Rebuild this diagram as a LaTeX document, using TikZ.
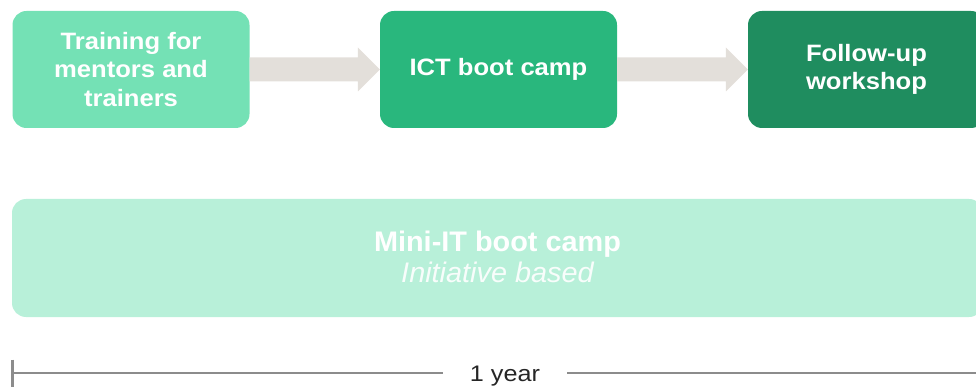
\documentclass[tikz,border=0pt]{standalone}
\usepackage{fontspec}
\setmainfont{Liberation Sans}
\newfontfamily\stepfont[FakeStretch=1.08]{Liberation Sans}
\newfontfamily\bandfont[FakeStretch=1.02]{Liberation Sans}
\newfontfamily\scalefont[FakeStretch=1.12]{Liberation Sans}
\usetikzlibrary{calc}
\definecolor{stepA}{HTML}{74E1B5}
\definecolor{stepB}{HTML}{29B77D}
\definecolor{stepC}{HTML}{1F8D5F}
\definecolor{band}{HTML}{B8F0D9}
\definecolor{flow}{HTML}{E3DFDA}
\definecolor{axis}{HTML}{8C8C8C}
\tikzset{
  stepbox/.style={rounded corners=14pt, minimum width=237pt, minimum height=117pt,
    inner sep=0pt, align=center, text=white,
    font=\stepfont\bfseries\fontsize{23.7}{28.5}\selectfont},
  bandbox/.style={rounded corners=14pt, fill=band, minimum width=971pt, minimum height=118pt,
    inner sep=0pt},
  flowarrow/.style={fill=flow},
}
\begin{document}
\begin{tikzpicture}[x=1pt,y=-1pt]
  \useasboundingbox (0,0) rectangle (976,387);
  \clip (0,0) rectangle (976,387);

  % process steps
  \node[stepbox, fill=stepA] (train) at (131,69.5) {Training for\\mentors and\\trainers};
  \node[stepbox, fill=stepB] (ict)   at (498.5,69.5) {ICT boot camp};
  \node[stepbox, fill=stepC] (follow) at (866.5,69.5) {Follow-up\\workshop};

  % block arrows between the steps
  \foreach \a/\b in {train/ict, ict/follow}{
    \fill[flowarrow]
      ($(\a.east)+(0,-12)$) -- ($(\b.west)+(-22,-12)$) -- ($(\b.west)+(-22,-22)$)
      -- (\b.west) -- ($(\b.west)+(-22,22)$) -- ($(\b.west)+(-22,12)$)
      -- ($(\a.east)+(0,12)$) -- cycle;
  }

  % running activity band
  \node[bandbox] (mini) at (497.5,258) {};
  \node[text=white, font=\bandfont\bfseries\fontsize{28.3}{31}\selectfont, anchor=base]
    (minititle) at (497.5,251.5) {Mini-IT boot camp};
  \node[text=white!90!band, font=\bandfont\itshape\fontsize{28.3}{31}\selectfont, anchor=base]
    (minisub) at (497.5,282.5) {Initiative based};

  % time scale
  \coordinate (t0) at (12,373);
  \coordinate (t1) at (990,373);
  \draw[axis, line width=2.6pt] (t0) -- (t1);
  \draw[axis, line width=3pt] (12,359.5) -- (12,390);
  \node[fill=white, anchor=base, minimum width=124pt, inner ysep=3pt,
        font=\scalefont\fontsize{22.5}{26}\selectfont, text=black!85] (year) at (505,381.7) {1 year};
\end{tikzpicture}
\end{document}
